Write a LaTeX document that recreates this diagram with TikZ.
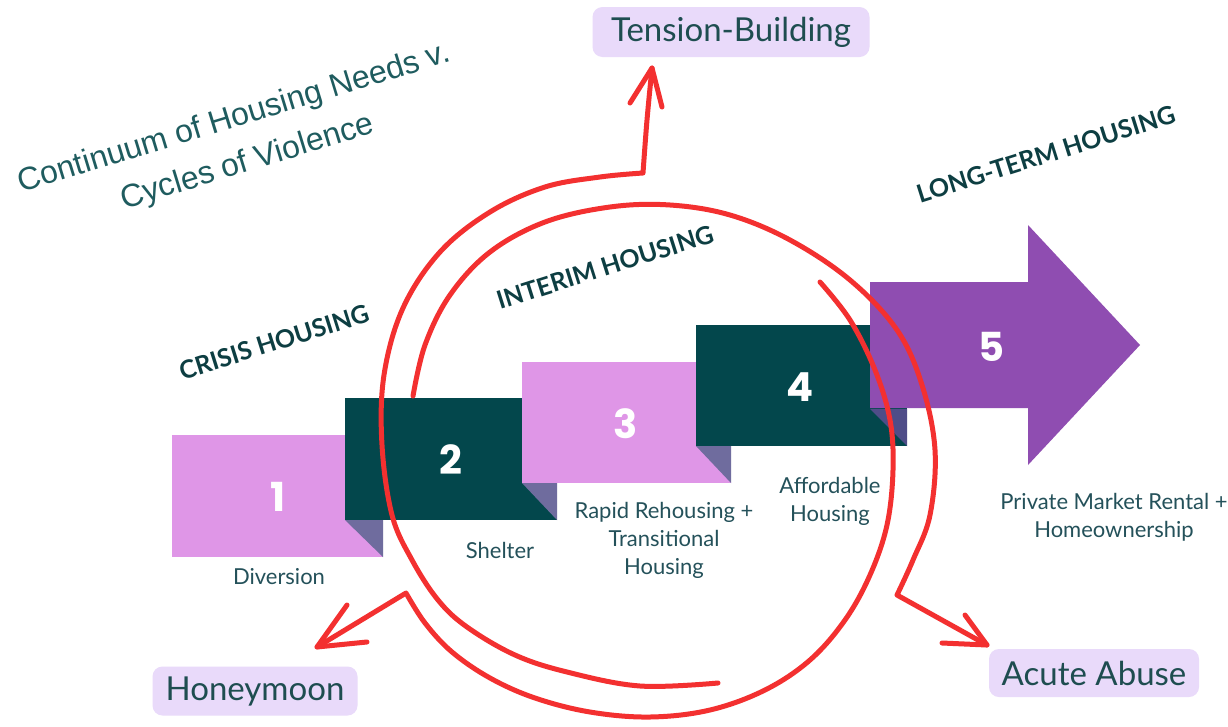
\documentclass[tikz,border=0pt]{standalone}
\usepackage{fontspec}
\setmainfont{Lato}
\newfontfamily\titlefont{Liberation Sans}
\newfontfamily\numfont{Poppins}
\definecolor{orchidc}{HTML}{DF96E7}
\definecolor{tealc}{HTML}{03474C}
\definecolor{foldc}{HTML}{6F6C9E}
\definecolor{folddk}{HTML}{4F4D88}
\definecolor{purplec}{HTML}{8F4DB1}
\definecolor{redc}{HTML}{F33030}
\definecolor{pillc}{HTML}{E9DAFA}
\definecolor{titlec}{HTML}{1F5C5F}
\definecolor{headc}{HTML}{0D3E42}
\definecolor{lblc}{HTML}{24515A}
\definecolor{pilltext}{HTML}{1E4D50}
\begin{document}
\begin{tikzpicture}[x=1pt,y=-1pt,
  redline/.style={draw=redc, line width=5pt, line cap=round, line join=round},
  pill/.style={fill=pillc, rounded corners=10pt, text=pilltext, inner sep=0pt,
    font=\fontsize{33}{33}\selectfont},
  headstyle/.style={text=headc, font=\bfseries\fontsize{25}{25}\selectfont, rotate=17.5, inner sep=0pt},
  lbl/.style={text=lblc, font=\fontsize{22}{28}\selectfont, align=center, inner sep=0pt},
  numstyle/.style={text=white, font=\numfont\bfseries\fontsize{40}{40}\selectfont, inner sep=0pt}
]
\useasboundingbox (0,0) rectangle (1228,726);
\fill[white] (0,0) rectangle (1228,726);

% steps
\fill[orchidc] (172,435) rectangle (383,557);
\fill[foldc] (345,520) -- (383,520) -- (383,557) -- cycle;
\fill[tealc] (345,398) rectangle (557,520);
\fill[foldc] (522,483) -- (557,483) -- (557,520) -- cycle;
\fill[orchidc] (522,362) rectangle (731,483);
\fill[foldc] (696,446) -- (731,446) -- (731,483) -- cycle;
\fill[tealc] (696,325) rectangle (907,446);
\fill[folddk] (870,409) -- (907,409) -- (907,446) -- cycle;
\fill[purplec] (870,282) -- (1028,282) -- (1028,225) -- (1140,345) -- (1028,465) -- (1028,408) -- (870,408) -- cycle;

% numbers
\node[numstyle] (n1) at (278,497) {1};
\node[numstyle] (n2) at (451,460) {2};
\node[numstyle] (n3) at (626,424) {3};
\node[numstyle] (n4) at (800,387) {4};
\node[numstyle] (n5) at (991,347) {5};

% labels
\node[lbl] (l1) at (279,577) {Diversion};
\node[lbl] (l2) at (500,550) {Shelter};
\node[lbl] (l3) at (664,540) {Rapid Rehousing +\\Transitional\\Housing};
\node[lbl] (l4) at (830,501) {Affordable\\Housing};
\node[lbl] (l5) at (1114,517) {Private Market Rental +\\Homeownership};

% headings
\node[headstyle] (hcrisis) at (274,342) {CRISIS HOUSING};
\node[headstyle] (hinterim) at (605,267) {INTERIM HOUSING};
\node[headstyle] (hlong) at (1046,154) {LONG-TERM HOUSING};

% title
\node[text=titlec, font=\titlefont\fontsize{32}{46}\selectfont, align=center, rotate=17, inner sep=0pt]
  (title) at (241,141) {Continuum of Housing Needs v.\\Cycles of Violence};

% pills
\node[pill, minimum width=277pt, minimum height=50pt] (tb) at (731,32) {Tension-Building};
\node[pill, minimum width=205pt, minimum height=49pt] (hm) at (255,691) {Honeymoon};
\node[pill, minimum width=210pt, minimum height=48pt] (aa) at (1094,673) {Acute Abuse};

% red cycle strokes
\coordinate (tipT) at (652,68);
\coordinate (tipH) at (317,647);
\coordinate (tipA) at (987,645);
% Tension-Building stroke
\draw[redline] plot[smooth, tension=0.6] coordinates {(tipT) (647,120) (643,173)}
  -- plot[smooth, tension=0.6] coordinates {(643,173) (600,177) (545,187) (490,212) (440,252) (403,308) (384,375) (382,445) (392,515) (412,560) (438,600) (467,627) (515,655) (567,672) (640,686) (718,683)};
\draw[redline] (630,103) -- (tipT) -- (662,107);
% Acute Abuse stroke
\draw[redline] plot[smooth, tension=0.6] coordinates {(413,396) (425,345) (450,295) (490,252) (545,222) (610,207) (670,205) (730,215) (790,240) (850,280) (897,330) (922,385) (935,450) (930,515) (913,560) (897,595)}
  -- (tipA);
\draw[redline] (965,615) -- (tipA) -- (942,643);
% Honeymoon stroke
\draw[redline] plot[smooth, tension=0.6] coordinates {(820,282) (850,320) (875,370) (890,420) (893,470) (887,525) (870,575) (845,620) (810,660) (765,690) (710,710) (650,717) (590,712) (535,698) (490,678) (452,652) (425,623) (406,593)}
  -- (tipH);
\draw[redline] (347,605) -- (tipH) -- (367,642);
\end{tikzpicture}
\end{document}
